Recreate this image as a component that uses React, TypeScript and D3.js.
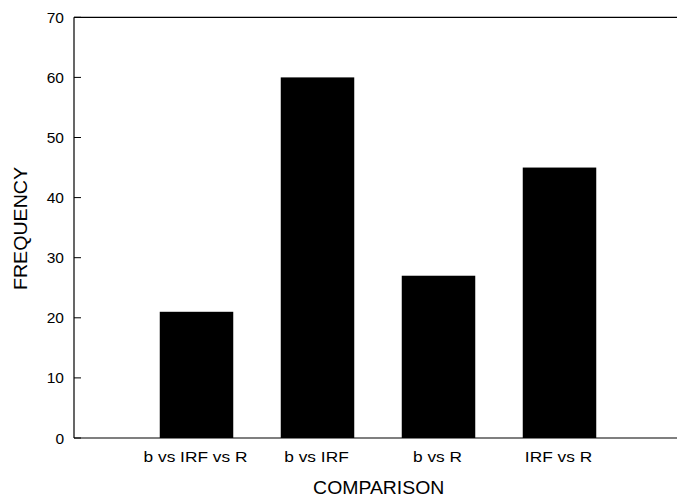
import React from "react";
import * as d3 from "d3";

const categories = ["b vs IRF vs R", "b vs IRF", "b vs R", "IRF vs R"];
const frequencies = [21, 60, 27, 45];
const yTicks = [0, 10, 20, 30, 40, 50, 60, 70];

const W = 677;
const H = 498;
const FONT = "'Liberation Sans', Arial, Helvetica, sans-serif";

export default function App() {
  const x = d3.scaleLinear().domain([0, 5]).range([75.5, 680.5]);
  const y = d3.scaleLinear().domain([0, 70]).range([438, 17.3]);
  const left = 74;
  const barW = 73.5;

  return (
    <svg
      width={W}
      height={H}
      viewBox={`0 0 ${W} ${H}`}
      style={{ position: "absolute", left: 0, top: 0, background: "#fff" }}
    >
      <rect x={0} y={0} width={W} height={H} fill="#fff" />
      {/* bars */}
      {categories.map((c, i) => (
        <rect
          key={c}
          x={x(i + 1) - barW / 2}
          y={y(frequencies[i])}
          width={barW}
          height={y(0) - y(frequencies[i])}
          fill="#000"
        />
      ))}
      {/* frame lines */}
      <line x1={left} x2={W} y1={y(0)} y2={y(0)} stroke="#000" strokeWidth={1.2} />
      <line x1={left} x2={W} y1={y(70)} y2={y(70)} stroke="#000" strokeWidth={1.2} />
      <line x1={left} x2={left} y1={y(70)} y2={y(0)} stroke="#000" strokeWidth={1.2} />
      {/* y ticks */}
      {yTicks.map((t) => (
        <g key={t}>
          <line x1={left} x2={left + 7} y1={y(t)} y2={y(t)} stroke="#000" strokeWidth={1} />
          <text
            x={64}
            y={y(t)}
            dy="0.36em"
            textAnchor="end"
            fontFamily={FONT}
            fontSize={15.5}
            fill="#000"
          >
            {t}
          </text>
        </g>
      ))}
      {/* x tick labels */}
      {categories.map((c, i) => (
        <text
          key={c}
          transform={`translate(${x(i + 1) - 1},462) scale(1.22,1)`}
          textAnchor="middle"
          fontFamily={FONT}
          fontSize={14.2}
          fill="#000"
        >
          {c}
        </text>
      ))}
      {/* axis titles */}
      <text
        transform={`translate(378.7,494) scale(1.11,1)`}
        textAnchor="middle"
        fontFamily={FONT}
        fontSize={17.5}
        fill="#000"
      >
        COMPARISON
      </text>
      <text
        transform={`translate(27,228.5) rotate(-90) scale(1.09,1)`}
        textAnchor="middle"
        fontFamily={FONT}
        fontSize={18}
        fill="#000"
      >
        FREQUENCY
      </text>
    </svg>
  );
}
